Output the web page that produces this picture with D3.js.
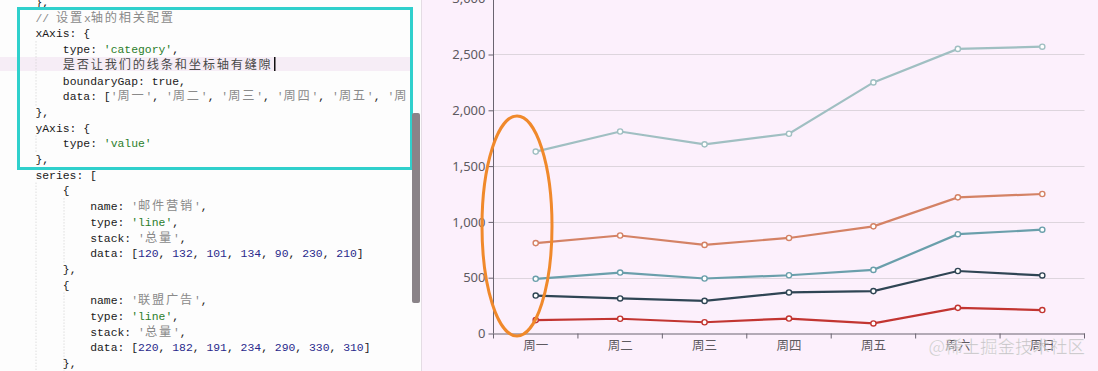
<!DOCTYPE html>
<html>
<head>
<meta charset="utf-8">
<script src="https://cdn.jsdelivr.net/npm/d3@7/dist/d3.min.js"></script>
<style>
  html, body { margin: 0; padding: 0; background: #fff; }
  svg { display: block; }
</style>
</head>
<body>
<svg id="chart" width="1098" height="371"></svg>
<script>
// chart data
const days = ["周一", "周二", "周三", "周四", "周五", "周六", "周日"];
const seriesNames = ["邮件营销", "联盟广告", "视频广告", "直接访问", "搜索引擎"];
const mailData = [120, 132, 101, 134, 90, 230, 210];
const allianceData = [220, 182, 191, 234, 290, 330, 310];
const videoData = [150, 232, 201, 154, 190, 330, 410];
const directData = [320, 332, 301, 334, 390, 330, 320];
const searchData = [820, 932, 901, 934, 1290, 1330, 1320];
const yTicks = [0, 500, 1000, 1500, 2000, 2500, 3000];
const seriesColors = ["#c23531", "#2f4554", "#6a9fab", "#d48265", "#a0bfc2"];

// editor text shown on the left
const codeLines = [
  "    },",
  "    // 设置x轴的相关配置",
  "    xAxis: {",
  "        type: 'category',",
  "        是否让我们的线条和坐标轴有缝隙",
  "        boundaryGap: true,",
  "        data: ['周一', '周二', '周三', '周四', '周五', '周",
  "    },",
  "    yAxis: {",
  "        type: 'value'",
  "    },",
  "    series: [",
  "        {",
  "            name: '邮件营销',",
  "            type: 'line',",
  "            stack: '总量',",
  "            data: [120, 132, 101, 134, 90, 230, 210]",
  "        },",
  "        {",
  "            name: '联盟广告',",
  "            type: 'line',",
  "            stack: '总量',",
  "            data: [220, 182, 191, 234, 290, 330, 310]",
  "        },"
];

const svg = d3.select("#chart");

// ---- editor panel ----
const editor = svg.append("g").attr("class", "editor");
editor.append("rect").attr("width", 421).attr("height", 371).attr("fill", "#fdfdfd");
// current line highlight
editor.append("rect").attr("x", 0).attr("y", 57).attr("width", 410).attr("height", 14).attr("fill", "#f6edf6");

const lineY = i => 2 + i * 15.7 + 4;
const charW = 6.85;
const mono = "'Liberation Mono', 'DejaVu Sans Mono', monospace";
const cjkFont = "'Noto Sans CJK SC', sans-serif";

// indent guides
const guides = [[35, 2, 7], [35, 8, 10], [35, 11, 24], [63, 12, 17], [63, 18, 24]];
guides.forEach(([x, a, b]) => {
  editor.append("line")
    .attr("x1", x + 1).attr("x2", x + 1)
    .attr("y1", lineY(a) + 4).attr("y2", lineY(b) - 10)
    .attr("stroke", "#cfcfcf").attr("stroke-dasharray", "1,2");
});

function tokenize(text) {
  const out = [];
  const re = /(\/\/.*$)|('[^']*'?)|(\btrue\b)|(\b\d+\b)|([^'\/\d]+|.)/g;
  let m;
  while ((m = re.exec(text)) !== null) {
    if (m[1]) out.push({ t: m[1], c: "#8a8a8a" });
    else if (m[2]) out.push({ t: m[2], c: /[\u4e00-\u9fff]/.test(m[2]) ? "#8a8a8a" : "#2b7d2b" });
    else if (m[3]) out.push({ t: m[3], c: "#2626a8" });
    else if (m[4]) out.push({ t: m[4], c: "#2a2a8c" });
    else out.push({ t: m[5], c: /[\u4e00-\u9fff]/.test(m[5]) ? "#4a4a4a" : "#1a1a1a" });
  }
  // split CJK runs so they get a wider font
  const parts = [];
  out.forEach(tok => {
    tok.t.split(/([\u4e00-\u9fff]+)/).forEach(s => {
      if (s) parts.push({ t: s, c: tok.c, cjk: /[\u4e00-\u9fff]/.test(s) });
    });
  });
  return parts;
}

codeLines.forEach((line, i) => {
  const lead = line.match(/^ */)[0].length;
  const txt = editor.append("text")
    .attr("x", 8 + lead * charW)
    .attr("y", lineY(i))
    .attr("font-family", mono)
    .attr("font-size", 11.4)
    .attr("xml:space", "preserve");
  tokenize(line.slice(lead)).forEach(p => {
    txt.append("tspan")
      .attr("fill", p.c)
      .attr("font-family", p.cjk ? cjkFont : mono)
      .attr("font-size", p.cjk ? 12.2 : 11.4)
      .attr("letter-spacing", p.cjk ? 1.8 : 0)
      .text(p.t);
  });
});

// text cursor
editor.append("rect").attr("x", 274).attr("y", 57).attr("width", 1.5).attr("height", 14).attr("fill", "#111");

// highlight box
editor.append("rect")
  .attr("x", 18.5).attr("y", 8.5).attr("width", 393).attr("height", 160)
  .attr("fill", "none").attr("stroke", "#2fd0cc").attr("stroke-width", 3);

// scrollbar
editor.append("rect").attr("x", 412).attr("y", 113).attr("width", 8).attr("height", 190)
  .attr("rx", 2).attr("fill", "#8a8388");

// ---- chart panel ----
const panel = svg.append("g").attr("class", "panel");
panel.append("rect").attr("x", 421).attr("y", 0).attr("width", 677).attr("height", 371).attr("fill", "#fcf0fc");
panel.append("line").attr("x1", 421.5).attr("x2", 421.5).attr("y1", 0).attr("y2", 371)
  .attr("stroke", "#e4dce4");

const margin = { left: 493.5, right: 1084.5, top: -1.3, bottom: 333.5 };

const x = d3.scaleBand().domain(days).range([margin.left, margin.right]);
const y = d3.scaleLinear().domain([0, 3000]).range([margin.bottom, margin.top]);

// grid lines
panel.append("g").selectAll("line")
  .data(yTicks.filter(d => d > 0))
  .join("line")
  .attr("x1", margin.left).attr("x2", margin.right)
  .attr("y1", d => Math.round(y(d)) + 0.5).attr("y2", d => Math.round(y(d)) + 0.5)
  .attr("stroke", "#ddd5dd");

// y axis
const yAxis = panel.append("g")
  .attr("transform", `translate(${margin.left},0)`)
  .call(d3.axisLeft(y).tickValues(yTicks).tickFormat(d3.format(",")).tickSize(5).tickPadding(3));
yAxis.select(".domain").attr("stroke", "#6a6470").attr("d", `M0,${margin.bottom}V-5`);
yAxis.selectAll(".tick line").attr("stroke", "#6a6470");
yAxis.selectAll(".tick text")
  .attr("fill", "#5e5a60")
  .attr("font-family", "'Noto Sans', sans-serif")
  .attr("font-size", 13);

// x axis
const xAxis = panel.append("g")
  .attr("transform", `translate(0,${margin.bottom})`)
  .call(d3.axisBottom(x).tickSize(0).tickPadding(8));
xAxis.select(".domain").attr("stroke", "#6a6470").attr("stroke-width", 1.2);
xAxis.selectAll(".tick text")
  .attr("fill", "#5e5a60")
  .attr("font-family", cjkFont)
  .attr("font-size", 12.5);
// boundary ticks between categories
xAxis.append("g").selectAll("line")
  .data(days.map(d => x(d)).concat([x.range()[1]]))
  .join("line")
  .attr("x1", d => d).attr("x2", d => d)
  .attr("y1", 0).attr("y2", 5)
  .attr("stroke", "#6a6470");

// stacked series
const rows = days.map((d, i) => ({
  day: d,
  [seriesNames[0]]: mailData[i],
  [seriesNames[1]]: allianceData[i],
  [seriesNames[2]]: videoData[i],
  [seriesNames[3]]: directData[i],
  [seriesNames[4]]: searchData[i]
}));
const stacked = d3.stack().keys(seriesNames)(rows);

const line = d3.line()
  .x(d => x(d.data.day) + x.bandwidth() / 2)
  .y(d => y(d[1]));

const seriesG = panel.append("g").selectAll("g")
  .data(stacked)
  .join("g");

seriesG.append("path")
  .attr("d", line)
  .attr("fill", "none")
  .attr("stroke", (d, i) => seriesColors[i])
  .attr("stroke-width", 2.2);

seriesG.each(function (s, i) {
  d3.select(this).selectAll("circle")
    .data(s)
    .join("circle")
    .attr("cx", d => x(d.data.day) + x.bandwidth() / 2)
    .attr("cy", d => y(d[1]))
    .attr("r", 2.6)
    .attr("fill", "#fff")
    .attr("stroke", seriesColors[i])
    .attr("stroke-width", 1.4);
});

// orange hand-drawn ellipse annotation
panel.append("ellipse")
  .attr("cx", 517).attr("cy", 226).attr("rx", 35).attr("ry", 110)
  .attr("fill", "none").attr("stroke", "#f0892b").attr("stroke-width", 3);

// watermark
svg.append("text")
  .attr("x", 1085).attr("y", 353)
  .attr("text-anchor", "end")
  .attr("font-family", cjkFont)
  .attr("font-size", 17.5)
  .attr("fill", "rgba(150,150,150,0.55)")
  .attr("stroke", "rgba(255,255,255,0.6)")
  .attr("stroke-width", 0.6)
  .text("@稀土掘金技术社区");
</script>
</body>
</html>
